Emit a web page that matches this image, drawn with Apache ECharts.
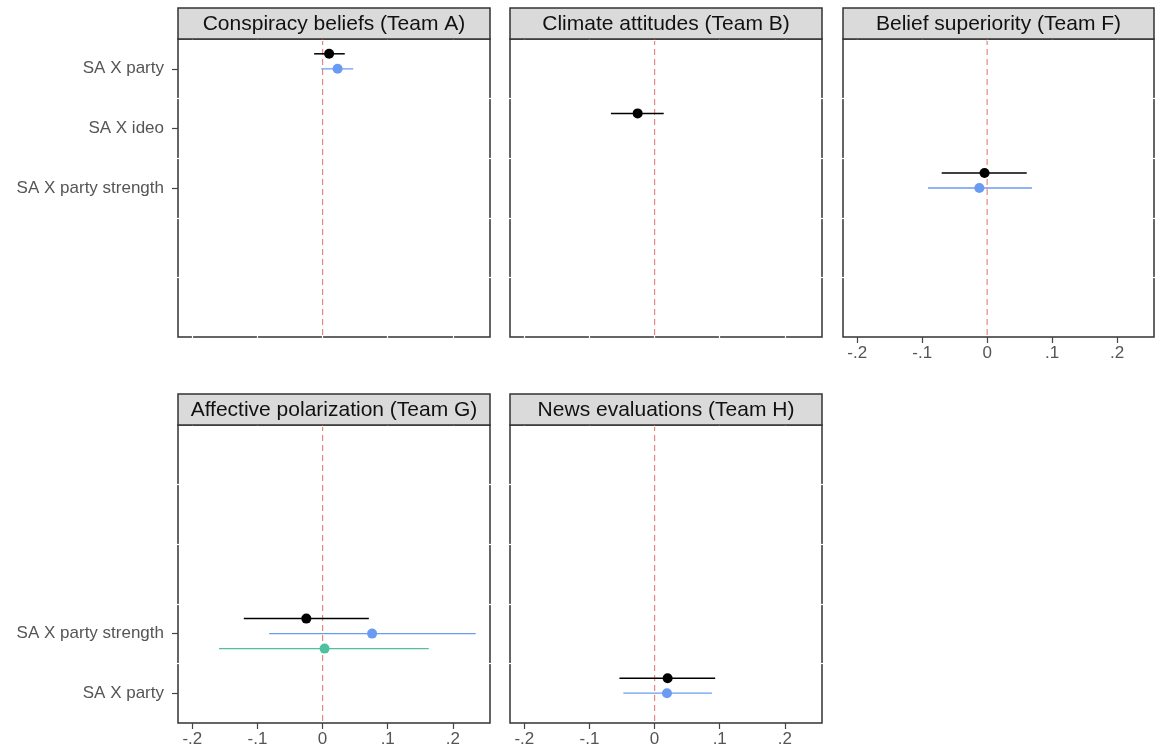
<!DOCTYPE html>
<html>
<head>
<meta charset="utf-8">
<script src="https://cdn.jsdelivr.net/npm/echarts@6/dist/echarts.min.js"></script>
<style>
html,body{margin:0;padding:0;background:#fff;}
#chart{width:1158px;height:755px;}
</style>
</head>
<body>
<div id="chart"></div>
<script>
// ---------------- DATA ----------------
const panelTitles = [
  'Conspiracy beliefs (Team A)',
  'Climate attitudes (Team B)',
  'Belief superiority (Team F)',
  'Affective polarization (Team G)',
  'News evaluations (Team H)'
];
const topRowLabels = ['SA X party', 'SA X ideo', 'SA X party strength', '', ''];
const bottomRowLabels = ['', '', '', 'SA X party strength', 'SA X party'];
// which row (category index) each panel's term sits on
const termRow = [0, 1, 2, 3, 4];

const xTickValues = [-0.2, -0.1, 0, 0.1, 0.2];
const xTickLabels = ['-.2', '-.1', '0', '.1', '.2'];
const refValue = 0;

// estimates per panel (null = not shown)
const blackEst = [0.010, -0.026, -0.004, -0.025, 0.020];
const blackLo  = [-0.013, -0.067, -0.070, -0.121, -0.054];
const blackHi  = [0.034, 0.014, 0.061, 0.071, 0.093];

const blueEst = [0.023, null, -0.012, 0.076, 0.019];
const blueLo  = [-0.002, null, -0.091, -0.082, -0.048];
const blueHi  = [0.047, null, 0.069, 0.235, 0.088];

const tealEst = [null, null, null, 0.003, null];
const tealLo  = [null, null, null, -0.159, null];
const tealHi  = [null, null, null, 0.163, null];

// ---------------- LAYOUT / STYLE ----------------
const X_MIN = -0.222, X_MAX = 0.257;
const layout = [
  {left: 178, top: 39, w: 312, h: 298, row: 0, yLab: true,  xLab: false},
  {left: 510, top: 39, w: 312, h: 298, row: 0, yLab: false, xLab: false},
  {left: 843, top: 39, w: 311, h: 298, row: 0, yLab: false, xLab: true},
  {left: 178, top: 425, w: 312, h: 298, row: 1, yLab: true,  xLab: true},
  {left: 510, top: 425, w: 312, h: 298, row: 1, yLab: false, xLab: true}
];
const HEADER_H = 31;
const FRAME = '#333333';
const LABEL_COLOR = '#555555';
const FONT = '"Liberation Sans", Arial, Helvetica, sans-serif';
const styles = [
  {est: blackEst, lo: blackLo, hi: blackHi, color: '#000000', dodge: -15, lw: 1.5},
  {est: blueEst,  lo: blueLo,  hi: blueHi,  color: '#6A9BF2', dodge: 0,   lw: 1.3},
  {est: tealEst,  lo: tealLo,  hi: tealHi,  color: '#4FC0A0', dodge: 15,  lw: 1.3}
];

const grids = [], xAxes = [], yAxes = [], series = [], graphics = [];

function makeRender(dodge, color, lw) {
  return function (params, api) {
    const row = api.value(3);
    const c = api.coord([api.value(0), row]);
    const l = api.coord([api.value(1), row]);
    const h = api.coord([api.value(2), row]);
    const y = c[1] + dodge;
    return {
      type: 'group',
      children: [
        {type: 'line', shape: {x1: l[0], y1: y, x2: h[0], y2: y},
         style: {stroke: color, lineWidth: lw}},
        {type: 'circle', shape: {cx: c[0], cy: y, r: 5},
         style: {fill: color}}
      ]
    };
  };
}

const noLine = {show: false, onZero: false};

layout.forEach((p, i) => {
  const rowLabels = p.row === 0 ? topRowLabels : bottomRowLabels;
  grids.push({
    left: p.left, top: p.top, width: p.w, height: p.h,
    show: true, borderColor: FRAME, borderWidth: 1.5, backgroundColor: '#fff',
    containLabel: false, outerBoundsMode: 'none'
  });
  // main x axis (bottom)
  const xMainIdx = xAxes.length;
  xAxes.push({
    type: 'value', gridIndex: i, position: 'bottom', min: X_MIN, max: X_MAX,
    offset: p.xLab ? 0 : -2,
    axisLine: noLine,
    splitLine: {show: false},
    axisTick: {show: true, customValues: xTickValues, length: p.xLab ? 6 : 4,
               lineStyle: {color: p.xLab ? '#444' : '#fff', width: 1.2}},
    axisLabel: {show: p.xLab, customValues: xTickValues, margin: 8,
                color: LABEL_COLOR, fontSize: 17, fontFamily: FONT,
                formatter: v => xTickLabels[xTickValues.findIndex(t => Math.abs(t - v) < 1e-9)]},
    z: 3
  });
  // top white tick axis
  xAxes.push({
    type: 'value', gridIndex: i, position: 'top', min: X_MIN, max: X_MAX, offset: -2,
    axisLine: noLine, splitLine: {show: false},
    axisTick: {show: true, customValues: xTickValues, length: 4,
               lineStyle: {color: '#fff', width: 1.2}},
    axisLabel: {show: false}, z: 3
  });
  // main y category axis
  const yMainIdx = yAxes.length;
  yAxes.push({
    type: 'category', gridIndex: i, position: 'left', inverse: true,
    data: rowLabels.map((_, k) => String(k)),
    boundaryGap: true,
    axisLine: noLine, splitLine: {show: false},
    axisTick: {show: p.yLab, alignWithLabel: true, length: 6,
               interval: (idx) => rowLabels[idx] !== '',
               lineStyle: {color: '#444', width: 1.2}},
    axisLabel: {show: p.yLab, interval: 0, margin: 14, color: LABEL_COLOR,
                fontSize: 17, fontFamily: FONT,
                formatter: (v, idx) => rowLabels[idx]}
  });
  // white tick value axes (left/right)
  const yValIdx = yAxes.length;
  yAxes.push({
    type: 'value', gridIndex: i, position: 'left', min: 0, max: 5, inverse: true, offset: -2,
    axisLine: noLine, splitLine: {show: false},
    axisTick: {show: true, customValues: [1, 2, 3, 4], length: 4,
               lineStyle: {color: '#fff', width: 1.2}},
    axisLabel: {show: false}, z: 3
  });
  yAxes.push({
    type: 'value', gridIndex: i, position: 'right', min: 0, max: 5, inverse: true, offset: -2,
    axisLine: noLine, splitLine: {show: false},
    axisTick: {show: true, customValues: [1, 2, 3, 4], length: 4,
               lineStyle: {color: '#fff', width: 1.2}},
    axisLabel: {show: false}, z: 3
  });
  // reference dashed line at 0
  series.push({
    type: 'line', xAxisIndex: xMainIdx, yAxisIndex: yValIdx,
    data: [[refValue, 0], [refValue, 5]],
    symbol: 'none', silent: true, animation: false,
    lineStyle: {color: '#E8867E', width: 1.2, type: [6, 4]}, z: 1
  });
  // estimates
  styles.forEach(s => {
    if (s.est[i] === null) return;
    series.push({
      type: 'custom', xAxisIndex: xMainIdx, yAxisIndex: yMainIdx,
      renderItem: makeRender(s.dodge, s.color, s.lw),
      encode: {x: [0, 1, 2], y: 3},
      data: [[s.est[i], s.lo[i], s.hi[i], termRow[i]]],
      animation: false, z: 2
    });
  });
  // header strip
  graphics.push({
    type: 'rect', shape: {x: p.left, y: p.top - HEADER_H, width: p.w, height: HEADER_H},
    style: {fill: '#DADADA', stroke: FRAME, lineWidth: 1.5}, z: 10
  });
  graphics.push({
    type: 'text', x: p.left + p.w / 2, y: p.top - HEADER_H / 2 + 0.5,
    style: {text: panelTitles[i], fill: '#111', font: '21px ' + FONT,
            textAlign: 'center', textVerticalAlign: 'middle'}, z: 11
  });
});

const chart = echarts.init(document.getElementById('chart'), null, {renderer: 'canvas'});
chart.setOption({
  backgroundColor: '#fff',
  animation: false,
  grid: grids,
  xAxis: xAxes,
  yAxis: yAxes,
  series: series,
  graphic: graphics
});
</script>
</body>
</html>
